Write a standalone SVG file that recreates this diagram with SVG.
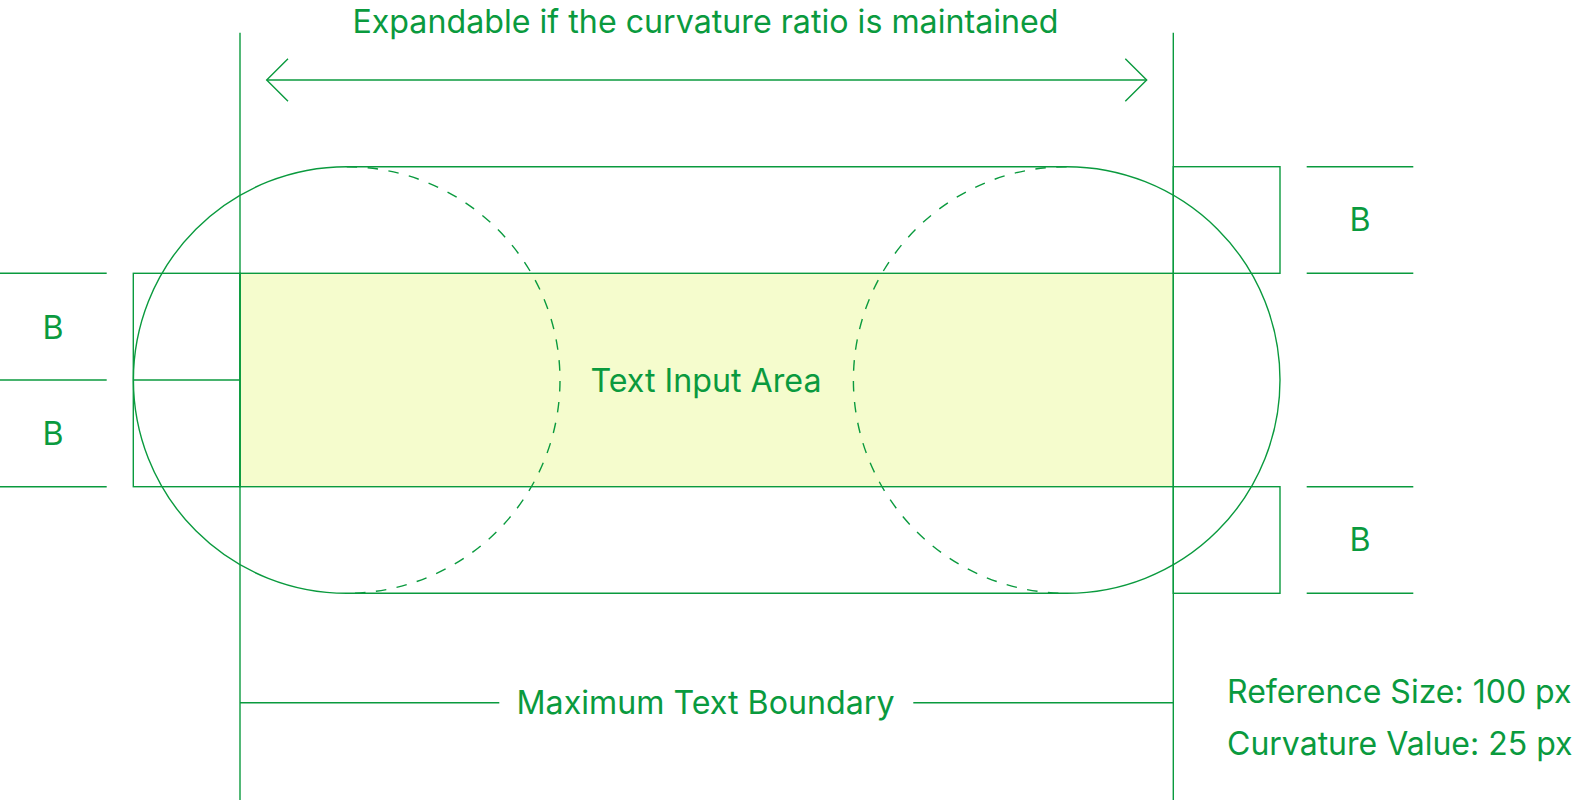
<svg xmlns="http://www.w3.org/2000/svg" width="1573" height="800" viewBox="0 0 1573 800">
<style>
.s{fill:none;stroke:#0a9a3e;stroke-width:1.4}
.d{fill:none;stroke:#0a9a3e;stroke-width:1.4;stroke-dasharray:10.5 10.5}
.t{font-family:Inter,"Noto Sans",sans-serif;font-size:32.2px;fill:#0a9a3e}
.n{font-size:32px}
.c{text-anchor:middle}
</style>
<rect width="1573" height="800" fill="#ffffff"/>
<g id="text-area">
<rect x="240" y="273.3" width="933.3" height="213.4" fill="#f5fccd" stroke="#0a9a3e" stroke-width="1.4"/>
<text class="t c" x="706" y="391.7">Text Input Area</text>
</g>
<g id="pill">
<path class="s" d="M346.7 166.7 H1066.7 A213.3 213.3 0 0 1 1066.7 593.3 H346.7 A213.3 213.3 0 0 1 346.7 166.7 Z"/>
<path class="d" d="M346.7 166.7 A213.3 213.3 0 0 1 346.7 593.3"/>
<path class="d" d="M1066.7 166.7 A213.3 213.3 0 0 0 1066.7 593.3"/>
</g>
<g id="boundary-lines">
<line class="s" x1="240" y1="32.7" x2="240" y2="800"/>
<line class="s" x1="1173.3" y1="32.7" x2="1173.3" y2="800"/>
</g>
<g id="expand-arrow">
<text class="t c" x="705.5" y="33.3">Expandable if the curvature ratio is maintained</text>
</g>
<g id="left-b">
<rect class="s" x="133.3" y="273.3" width="106.7" height="213.4"/>
<line class="s" x1="133.3" y1="380" x2="240" y2="380"/>
<line class="s" x1="0" y1="273.3" x2="106.7" y2="273.3"/>
<line class="s" x1="0" y1="380" x2="106.7" y2="380"/>
<line class="s" x1="0" y1="486.7" x2="106.7" y2="486.7"/>
<text class="t c" x="53" y="339.3">B</text>
<text class="t c" x="53" y="445.3">B</text>
</g>
<g id="right-b-top">
<rect class="s" x="1173.3" y="166.7" width="106.7" height="106.6"/>
<line class="s" x1="1306.7" y1="166.7" x2="1413.3" y2="166.7"/>
<line class="s" x1="1306.7" y1="273.3" x2="1413.3" y2="273.3"/>
<text class="t c" x="1360" y="231">B</text>
</g>
<g id="right-b-bottom">
<rect class="s" x="1173.3" y="486.7" width="106.7" height="106.6"/>
<line class="s" x1="1306.7" y1="486.7" x2="1413.3" y2="486.7"/>
<line class="s" x1="1306.7" y1="593.3" x2="1413.3" y2="593.3"/>
<text class="t c" x="1360" y="551">B</text>
</g>
<g id="max-boundary">
<text class="t c" x="705.5" y="714.3">Maximum Text Boundary</text>
</g>
<g id="notes">
<text class="t n" x="1227" y="703.3">Reference Size: 100 px</text>
<text class="t n" x="1227" y="755">Curvature Value: 25 px</text>
</g>
<g id="connectors">
<line class="s" x1="266.7" y1="80" x2="1146.7" y2="80"/>
<polyline class="s" points="288,58.7 266.7,80 288,101.3"/>
<polyline class="s" points="1125.3,58.7 1146.7,80 1125.3,101.3"/>
<line class="s" x1="240" y1="702.7" x2="499.3" y2="702.7"/>
<line class="s" x1="913.3" y1="702.7" x2="1173.3" y2="702.7"/>
</g>
</svg>
